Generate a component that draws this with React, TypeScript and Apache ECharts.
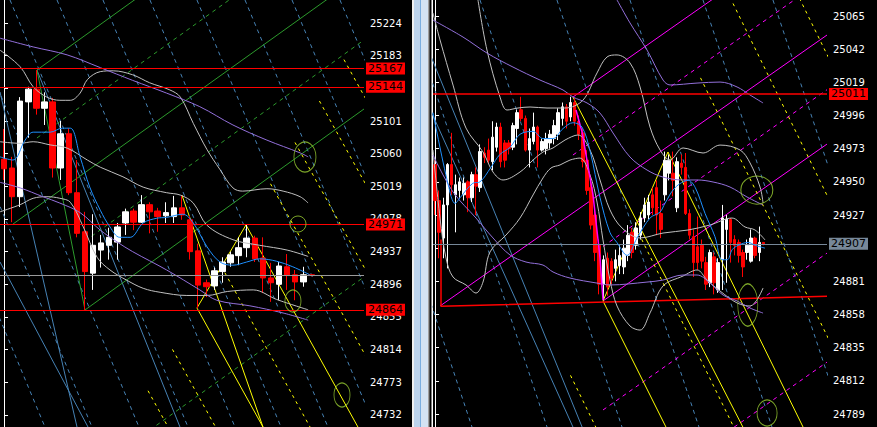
import React, { useEffect, useRef } from 'react';
import * as echarts from 'echarts';

// ---------- LEFT PANEL DATA ----------
// candles: [open, close, low, high]
const leftCandles = [
  [25053, 25041, 25027, 25091], [25042, 25006, 24974, 25056], [25006, 25126, 24993, 25131], [25125, 25141, 25080, 25144],
  [25141, 25117, 25109, 25165], [25117, 25125, 25096, 25137], [25125, 25042, 25030, 25130], [25042, 25085, 25027, 25101],
  [25085, 25011, 25008, 25092], [25011, 24960, 24955, 25052], [24962, 24912, 24864, 24987], [24910, 24945, 24889, 24984],
  [24939, 24948, 24917, 24958], [24945, 24955, 24927, 24967], [24949, 24968, 24927, 24973], [24973, 24987, 24958, 24991],
  [24988, 24974, 24964, 24991], [24974, 24996, 24973, 25008], [24996, 24987, 24960, 24999], [24988, 24981, 24962, 24992],
  [24982, 24986, 24973, 24999], [24981, 24992, 24973, 25007], [24992, 24983, 24977, 25008], [24977, 24937, 24927, 24982],
  [24938, 24895, 24866, 24947], [24898, 24893, 24880, 24902], [24894, 24913, 24889, 24917], [24912, 24924, 24898, 24930],
  [24923, 24933, 24918, 24937], [24932, 24942, 24920, 24955], [24942, 24954, 24930, 24971], [24954, 24928, 24924, 24957],
  [24929, 24904, 24885, 24955], [24904, 24898, 24874, 24923], [24896, 24919, 24876, 24924], [24918, 24907, 24889, 24934],
  [24908, 24899, 24876, 24914], [24899, 24908, 24893, 24918], [24908, 24907, 24906, 24909],
];
const leftTicks = [24732, 24773, 24814, 24855, 24896, 24937, 24978, 25019, 25060, 25101, 25142, 25183, 25224];
// tick labels visible in the reference (25142 is hidden behind the 25144 box)
const leftTickLabels = [24732, 24773, 24814, 24855, 24896, 24937, 24978, 25019, 25060, 25101, 25183, 25224];
const leftLevels = [25167, 25144, 24971, 24864];
const leftLast = 24907.4;

const leftBlueMA = [[-0.5,25056],[1.1,25052],[2.6,25077],[3.6,25087],[5.7,25087],[7.2,25092],[8.2,25092],[9.4,25056],[10.6,25018],[11.9,24989],[13.1,24968],[14.3,24955],[15.6,24955],[17.2,24973],[18.9,24979],[20.1,24980],[22.1,24984],[23.4,24973],[25.1,24943],[26.7,24924],[28.3,24920],[30.0,24924],[31.6,24928],[33.7,24925],[35.7,24918],[37.8,24908]];
const leftUpper = [[-0.5,25190],[2.0,25169],[3.6,25144],[5.3,25131],[6.9,25127],[8.2,25127],[9.4,25136],[10.3,25153],[11.9,25163],[13.5,25164],[15.9,25159],[18.0,25149],[20.5,25140],[21.8,25131],[23.4,25098],[25.1,25065],[26.7,25040],[28.3,25017],[29.5,25013],[32.5,25016],[34.5,25013],[36.6,25006],[37.6,24998]];
const leftMiddle = [[-0.5,25075],[2.0,25073],[3.6,25075],[5.7,25071],[7.8,25067],[10.3,25052],[11.9,25043],[14.7,25031],[17.2,25018],[20.1,25011],[21.8,25008],[23.4,24998],[25.1,24970],[28.3,24952],[31.6,24945],[35.0,24939],[37.6,24931]];
const leftLower = [[-0.5,24987],[2.0,24996],[3.6,25004],[5.3,25006],[6.9,25004],[8.2,24999],[9.8,24968],[11.5,24930],[13.1,24914],[15.2,24901],[17.2,24891],[19.3,24886],[22.6,24882],[25.1,24882],[27.6,24887],[30.8,24889],[33.7,24877],[37.6,24864]];
const leftPurpleA = [[-0.5,25205],[3.6,25194],[7.8,25184],[11.9,25168],[15.9,25152],[20.1,25136],[24.2,25119],[28.3,25096],[32.5,25077],[36.6,25061],[37.6,25056]];
const leftPurpleB = [[-0.5,25024],[2.0,25017],[4.8,25006],[6.9,24998],[9.4,24986],[11.9,24964],[14.0,24949],[15.9,24937],[20.1,24914],[24.2,24889],[26.3,24876],[30.4,24869],[34.5,24860],[37.6,24851]];

const leftGreenSolid = [
  [[4.07, 25165.0], [10.01, 24863.8]],
  [[4.07, 25165.0], [21.26, 25290.5]],
  [[1.11, 24971.7], [44.5, 25286.8]],
  [[10.01, 24863.8], [44.5, 25116.1]],
];
const leftGreenDashed = [
  [[4.07, 25079.7], [30.4, 25271.7]],
  [[10.01, 24950.4], [44.5, 25202.7]],
  [[18.04, 24713.2], [44.5, 24905.2]],
];
const leftBlueDashed = [
  [[-16.94, 25252.9], [5.06, 24716.9]], [[-11.13, 25252.9], [10.87, 24716.9]], [[-5.32, 25252.9], [16.68, 24716.9]],
  [[0.74, 25252.9], [22.74, 24716.9]], [[6.55, 25252.9], [28.55, 24716.9]], [[12.23, 25252.9], [34.24, 24716.9]],
  [[18.04, 25252.9], [40.04, 24716.9]], [[23.85, 25252.9], [45.85, 24716.9]], [[29.79, 25252.9], [51.79, 24716.9]],
  [[35.6, 25252.9], [57.6, 24716.9]], [[41.53, 25252.9], [63.53, 24716.9]],
];
const leftBlueSolid = [
  [[4.07, 25165.0], [21.75, 24716.9]],
  [[-0.5, 24924.0], [10.38, 24716.9]],
  [[-0.5, 25137.4], [9.02, 24716.9]],
];
const leftYellowSolid = [
  [[21.99, 25008.1], [32.01, 24716.9]],
  [[23.85, 24866.3], [29.91, 24970.5]],
  [[29.91, 24970.5], [43.75, 24716.9]],
  [[23.85, 24866.3], [32.01, 24716.9]],
];
const leftYellowDashed = [
  [[17.8, 24762.4], [20.28, 24716.9]], [[20.82, 24814.3], [26.15, 24716.9]], [[26.88, 24918.3], [37.83, 24716.9]],
  [[32.94, 25022.2], [49.57, 24716.9]], [[35.97, 25074.1], [55.45, 24716.9]], [[38.99, 25126.1], [61.38, 24716.9]],
  [[42.02, 25178.1], [67.25, 24716.9]],
];
const leftRings = [[37.2, 25055.8], [36.34, 24971.7], [35.72, 24875.1], [41.78, 24757.1]];

// ---------- RIGHT PANEL DATA ----------
const rightCandles = [
  [24962,24937,24927,24965],[24937,24915,24897,24944],[24911,24934,24897,24939],[24934,24962,24890,24963],
  [24962,24948,24941,24984],[24941,24948,24915,24955],[24944,24950,24939,24953],[24941,24949,24937,24953],
  [24950,24939,24929,24951],[24939,24955,24936,24957],[24955,24947,24927,24960],[24946,24971,24943,24976],
  [24970,24967,24963,24974],[24972,24965,24963,24980],[24964,24981,24958,24992],[24974,24988,24971,24991],
  [24988,24964,24960,24991],[24977,24965,24960,24979],[24977,24973,24969,24979],[24974,24989,24972,24991],
  [24987,24998,24976,25000],[25000,24994,24992,25009],[24994,24972,24971,24996],[24972,24980,24960,24987],
  [24978,24988,24976,24998],[24988,24972,24960,24989],[24972,24978,24971,24980],[24973,24980,24969,24984],
  [24977,24983,24973,24986],[24980,24989,24976,24993],[24983,24998,24979,25001],[24994,25002,24989,25005],
  [25002,24992,24987,25004],[24995,25005,24992,25009],[25005,24992,24989,25008],[24992,24983,24979,24996],
  [24984,24964,24960,24987],[24965,24944,24941,24972],[24946,24920,24917,24950],[24927,24901,24895,24931],
  [24906,24879,24872,24910],[24879,24896,24868,24899],[24897,24877,24871,24901],[24895,24883,24879,24897],
  [24890,24896,24881,24903],[24892,24899,24886,24906],[24891,24904,24886,24910],[24899,24913,24895,24920],
  [24915,24901,24897,24918],[24906,24918,24903,24922],[24913,24925,24910,24929],[24925,24934,24922,24939],
  [24927,24936,24924,24941],[24941,24932,24927,24946],[24946,24927,24913,24951],[24928,24917,24911,24937],
  [24941,24965,24937,24971],[24956,24965,24951,24969],[24956,24951,24940,24971],[24932,24964,24929,24967],
  [24963,24960,24955,24969],[24960,24928,24927,24970],[24928,24913,24910,24931],[24912,24894,24884,24917],
  [24905,24894,24889,24926],[24906,24895,24890,24910],[24894,24879,24875,24898],[24880,24901,24877,24903],
  [24898,24880,24872,24901],[24875,24894,24873,24897],[24896,24925,24875,24934],[24917,24924,24880,24927],
  [24924,24908,24894,24925],[24910,24906,24899,24913],[24908,24899,24894,24910],[24901,24891,24884,24903],
  [24901,24906,24896,24910],[24895,24911,24894,24917],[24911,24899,24897,24912],[24901,24908,24895,24919],
  [24908,24907,24906,24908],
];
const rightTicks = [24789, 24812, 24835, 24858, 24881, 24904, 24927, 24950, 24973, 24996, 25019, 25042, 25065];
// 24904 is hidden behind the 24907 box in the reference
const rightTickLabels = [24789, 24812, 24835, 24858, 24881, 24927, 24950, 24973, 24996, 25019, 25042, 25065];
const rightLevels = [25011];
const rightLast = 24907;

const rightBlueMA = [[-0.5,24998],[3.2,24948],[4.9,24935],[6.1,24939],[9.2,24949],[10.95,24950],[13.6,24960],[15.8,24969],[18.3,24974],[20.7,24983],[23.9,24985],[26.3,24980],[28.7,24980],[31.2,24987],[33.6,24991],[35.8,24988],[37.8,24971],[40.2,24939],[42.6,24915],[44.3,24908],[46.8,24899],[49.2,24911],[52.4,24925],[54.8,24929],[56.0,24935],[58.5,24946],[61.7,24951],[63.4,24946],[65.8,24928],[68.2,24912],[69.9,24896],[71.2,24896],[72.4,24903],[73.9,24906],[76.3,24908],[78.0,24906],[80.4,24904]];
const rightUpper = [[10.46,25076.1],[12.65,25041.4],[15.83,25008.8],[17.53,24999.8],[20.21,25001.2],[23.14,25001.9],[27.28,25001.2],[31.67,25001.2],[36.05,25006.7],[39.46,25025.5],[41.9,25036.6],[44.34,25038.0],[47.51,25032.4],[49.95,25015.8],[52.38,24988.0],[54.82,24972.1],[57.26,24965.2],[60.43,24973.5],[65.3,24970.0],[69.44,24975.5],[74.32,24972.1],[76.75,24963.1],[79.19,24946.4],[79.92,24935.4]];
const rightMiddle = [[-0.5,25067.1],[1.21,25048.4],[4.38,25017.1],[7.54,24987.3],[11.68,24970.7],[14.12,24956.8],[16.56,24951.3],[20.7,24956.8],[23.87,24965.1],[26.3,24970.7],[28.74,24973.5],[31.67,24979.0],[34.83,24982.5],[37.76,24972.1],[40.19,24951.3],[42.63,24930.5],[45.56,24918.0],[49.95,24911.1],[55.55,24914.5],[61.64,24916.6],[67.0,24920.1],[72.36,24924.9],[75.53,24918.7],[77.97,24916.6],[80.4,24909.7]];
const rightLower = [[-0.5,24972.1],[1.21,24924.9],[2.67,24897.2],[4.38,24884.0],[7.54,24878.5],[9.98,24872.9],[11.68,24880.5],[13.39,24901.4],[17.29,24913.1],[20.7,24924.9],[23.87,24940.9],[26.3,24952.7],[28.25,24959.6],[30.45,24961.7],[32.88,24965.1],[35.32,24966.5],[37.76,24954.7],[39.46,24936.0],[40.92,24909.7],[42.63,24881.9],[44.34,24863.9],[47.51,24850.0],[49.95,24847.2],[52.38,24859.1],[55.55,24877.8],[60.43,24884.7],[63.84,24888.9],[66.28,24881.9],[69.44,24874.3],[73.59,24866.0],[76.75,24863.9],[79.92,24876.4]];
const rightPurpleA = [[-0.5,25062.2],[6.81,25050.4],[12.66,25039.3],[18.99,25029.6],[25.57,25020.6],[31.18,25013.7],[33.61,25008.8],[37.03,25004.7],[40.19,24997.7],[43.36,24983.9],[47.5,24967.2],[51.65,24958.2],[55.55,24953.3],[60.42,24951.3],[63.83,24951.3],[67.73,24949.9],[71.87,24946.4],[76.01,24939.5],[79.91,24933.9]];
const rightPurpleB = [[44.34,25076.1],[47.5,25060.2],[51.65,25041.4],[55.55,25020.6],[57.25,25017.2],[63.83,25018.5],[69.44,25019.2],[73.58,25015.8],[76.75,25010.2],[79.92,25004.7]];
const rightPurpleC = [[-0.5,24968.6],[4.38,24943.0],[9.98,24924.9],[14.12,24911.1],[18.26,24899.3],[22.16,24894.4],[26.3,24892.3],[28.74,24887.5],[32.88,24883.3],[39.46,24879.8],[42.63,24878.5],[51.64,24880.5],[55.55,24881.9],[60.42,24885.4],[63.83,24885.4],[67.0,24879.8],[70.17,24871.5],[73.58,24867.4],[76.75,24862.5],[79.92,24859.0]];

const rightMagentaSolid = [
  [[1.21, 24863.9], [95.5, 25051.8]],
  [[33.6, 25008.8], [79.2, 25099.7]],
  [[40.92, 24867.4], [95.5, 24976.2]],
];
const rightMagentaDashed = [
  [[33.6, 24968.6], [95.5, 25092.0]],
  [[40.92, 24905.2], [95.5, 25013.9]],
  [[40.92, 24791.8], [95.5, 24900.6]],
  [[40.92, 24716.2], [95.5, 24825.0]],
];
const rightZigzag = [[34.34, 24999.8], [35.81, 24984.6], [38.49, 24940.9], [40.2, 24897.2], [40.92, 24868.1]];
const rightYellowSolid = [
  [[33.6, 25008.8], [75.0, 24780.0]],
  [[40.92, 24867.4], [56.75, 24970.7]],
  [[56.75, 24970.7], [89.66, 24780.0]],
  [[40.92, 24867.4], [56.26, 24780.0]],
];
const rightYellowDashed = [
  [[33.0, 24815.8], [39.16, 24780.0]], [[48.84, 24918.9], [72.77, 24780.0]], [[64.68, 25022.1], [106.41, 24780.0]],
  [[72.6, 25073.7], [123.18, 24780.0]], [[80.52, 25125.3], [139.99, 24780.0]], [[88.44, 25176.7], [156.76, 24780.0]],
];
const rightBlueDashed = [
  [[-43.87, 25076.1], [-9.27, 24780.0]], [[-25.6, 25076.1], [9.0, 24780.0]], [[-7.32, 25076.1], [27.28, 24780.0]],
  [[10.95, 25076.1], [45.55, 24780.0]], [[29.7, 25076.1], [64.3, 24780.0]], [[47.49, 25076.1], [82.09, 24780.0]],
  [[65.28, 25076.1], [99.88, 24780.0]], [[82.33, 25076.1], [116.94, 24780.0]],
];
const rightBlueSolid = [
  [[-6.59, 25076.1], [35.83, 24780.0]],
  [[-13.17, 25076.1], [33.6, 24780.0]],
];
const rightRedPath = [[1.45, 24910], [1.45, 24863.7], [95.5, 24870.6]];
const rightRings = [[78.4, 24944.3], [76.2, 24864.6], [80.9, 24789.7]];

// ---------- styling ----------
const leftRingSizes = [[22, 30], [16, 16], [16, 22], [16, 24]];
const rightRingSizes = [[32, 28], [20, 42], [20, 26]];
const LEFT_SLOTS = 45;
const RIGHT_SLOTS = 96;
const FONT = 'DejaVu Sans';
const GREEN = '#2c9a2c';

function segSeries(lines: number[][][], color: string, dash: any, xi: number, yi: number, width = 1, z = 2) {
  return lines.map((d) => ({
    type: 'line', xAxisIndex: xi, yAxisIndex: yi, data: d, symbol: 'none', silent: true, z,
    lineStyle: { color, width, type: dash }, clip: true,
  }));
}
function curve(d: number[][], color: string, xi: number, yi: number, z = 4) {
  return {
    type: 'line', xAxisIndex: xi, yAxisIndex: yi, data: d, symbol: 'none', silent: true, z,
    smooth: 0.35, lineStyle: { color, width: 1 }, clip: true,
  };
}
function levelLabel(bg: string) {
  return {
    show: true, position: 'end', distance: 2, formatter: (p: any) => String(p.value),
    backgroundColor: bg, color: '#000', fontSize: 11, fontFamily: FONT, padding: [1, 2, 0, 2], lineHeight: 11,
  };
}
function yAxisCfg(gridIndex: number, min: number, max: number, ticks: number[], labels: number[]) {
  return {
    type: 'value', gridIndex, position: 'right', min, max,
    splitLine: { show: false },
    axisLine: { show: true, lineStyle: { color: '#ffffff', width: 1 } },
    axisTick: { show: true, length: 4, lineStyle: { color: '#ffffff' }, customValues: ticks },
    axisLabel: { color: '#ffffff', fontSize: 10, fontFamily: FONT, margin: 6, customValues: labels, formatter: (v: number) => String(v) },
  };
}

export default function App() {
  const ref = useRef<HTMLDivElement>(null);
  useEffect(() => {
    if (!ref.current) return;
    const chart = echarts.init(ref.current, undefined, { renderer: 'svg' });
    const leftCats = Array.from({ length: LEFT_SLOTS }, (_, i) => String(i));
    const rightCats = Array.from({ length: RIGHT_SLOTS }, (_, i) => String(i));
    const candleStyle = { color: '#ffffff', color0: '#ff0000', borderColor: '#ffffff', borderColor0: '#ff0000', borderWidth: 1 };
    const ringSeries = (pts: number[][], sizes: number[][], xi: number, yi: number) => ({
      type: 'scatter', xAxisIndex: xi, yAxisIndex: yi, silent: true, z: 6,
      data: pts.map((p, i) => ({ value: p, symbolSize: sizes[i] })),
      symbol: 'circle', itemStyle: { color: 'rgba(0,0,0,0)', borderColor: '#9acd32', borderWidth: 1 },
    });
    const option: any = {
      animation: false,
      backgroundColor: '#000000',
      grid: [
        { left: 0, top: 0, width: 364, height: 427 },
        { left: 433, top: 0, width: 394, height: 427 },
      ],
      xAxis: [
        { type: 'category', gridIndex: 0, data: leftCats, show: false },
        { type: 'value', gridIndex: 0, min: -0.5, max: LEFT_SLOTS - 0.5, show: false },
        { type: 'category', gridIndex: 1, data: rightCats, show: false },
        { type: 'value', gridIndex: 1, min: -0.5, max: RIGHT_SLOTS - 0.5, show: false },
      ],
      yAxis: [
        yAxisCfg(0, 24716.9, 25252.9, leftTicks, leftTickLabels),
        yAxisCfg(1, 24780.0, 25076.1, rightTicks, rightTickLabels),
      ],
      graphic: [
        { type: 'rect', shape: { x: 412, y: 0, width: 2, height: 427 }, style: { fill: '#f0f0f0' }, silent: true },
        { type: 'rect', shape: { x: 414, y: 0, width: 6, height: 427 }, style: { fill: '#bcd3ec' }, silent: true },
        { type: 'rect', shape: { x: 420, y: 0, width: 1, height: 427 }, style: { fill: '#7aaee0' }, silent: true },
        { type: 'rect', shape: { x: 421, y: 0, width: 7, height: 427 }, style: { fill: '#d4e3f3' }, silent: true },
        { type: 'rect', shape: { x: 428, y: 0, width: 1.5, height: 427 }, style: { fill: '#a0a0a0' }, silent: true },
        { type: 'rect', shape: { x: 431.5, y: 0, width: 1.5, height: 427 }, style: { fill: '#ffffff' }, silent: true },
      ],
      series: [
        // left drawn objects
        ...segSeries(leftBlueDashed, '#4682b4', [4, 4], 1, 0),
        ...segSeries(leftBlueSolid, '#4682b4', 'solid', 1, 0),
        ...segSeries(leftGreenDashed, GREEN, [4, 4], 1, 0),
        ...segSeries(leftGreenSolid, GREEN, 'solid', 1, 0),
        ...segSeries(leftYellowDashed, '#ffff00', [3, 4], 1, 0),
        ...segSeries(leftYellowSolid, '#ffff00', 'solid', 1, 0),
        curve(leftUpper, '#c0c0c0', 1, 0), curve(leftMiddle, '#c0c0c0', 1, 0), curve(leftLower, '#c0c0c0', 1, 0),
        curve(leftPurpleA, '#9370db', 1, 0), curve(leftPurpleB, '#9370db', 1, 0),
        {
          type: 'candlestick', xAxisIndex: 0, yAxisIndex: 0, data: leftCandles, barWidth: 6, z: 3, silent: true,
          itemStyle: candleStyle,
          markLine: {
            symbol: 'none', silent: true, animation: false,
            data: [
              ...leftLevels.map((v) => ({ yAxis: v, lineStyle: { color: '#ff0000', width: 1, type: 'solid' }, label: levelLabel('#ff0000') })),
              { yAxis: leftLast, lineStyle: { color: '#9a9a9a', width: 1, type: 'solid' }, label: { show: false } },
            ],
          },
        },
        curve(leftBlueMA, '#1e90ff', 1, 0, 5),
        ringSeries(leftRings, leftRingSizes, 1, 0),

        // right drawn objects
        ...segSeries(rightBlueDashed, '#4682b4', [4, 4], 3, 1),
        ...segSeries(rightBlueSolid, '#4682b4', 'solid', 3, 1),
        ...segSeries(rightMagentaDashed, '#ff00ff', [4, 4], 3, 1),
        ...segSeries(rightMagentaSolid, '#ff00ff', 'solid', 3, 1),
        ...segSeries(rightYellowDashed, '#ffff00', [3, 4], 3, 1),
        ...segSeries(rightYellowSolid, '#ffff00', 'solid', 3, 1),
        {
          type: 'line', xAxisIndex: 3, yAxisIndex: 1, data: rightRedPath, symbol: 'none', silent: true, z: 2,
          lineStyle: { color: '#ff0000', width: 1.5 },
        },
        curve(rightUpper, '#c0c0c0', 3, 1), curve(rightMiddle, '#c0c0c0', 3, 1), curve(rightLower, '#c0c0c0', 3, 1),
        curve(rightPurpleA, '#9370db', 3, 1), curve(rightPurpleB, '#9370db', 3, 1), curve(rightPurpleC, '#9370db', 3, 1),
        {
          type: 'candlestick', xAxisIndex: 2, yAxisIndex: 1, data: rightCandles, barWidth: 3, z: 3, silent: true,
          itemStyle: candleStyle,
          markLine: {
            symbol: 'none', silent: true, animation: false,
            data: [
              ...rightLevels.map((v) => ({ yAxis: v, lineStyle: { color: '#ff0000', width: 1.5, type: 'solid' }, label: levelLabel('#ff0000') })),
              { yAxis: rightLast, lineStyle: { color: '#778899', width: 1, type: 'solid' }, label: levelLabel('#778899') },
            ],
          },
        },
        {
          type: 'line', xAxisIndex: 3, yAxisIndex: 1, data: rightZigzag, symbol: 'none', silent: true, z: 4,
          lineStyle: { color: '#ff00ff', width: 1.5 },
        },
        curve(rightBlueMA, '#1e90ff', 3, 1, 5),
        ringSeries(rightRings, rightRingSizes, 3, 1),
      ],
    };
    chart.setOption(option);
    return () => chart.dispose();
  }, []);
  return (
    <div
      ref={ref}
      style={{ position: 'absolute', left: 0, top: 0, width: 877, height: 427, background: '#000' }}
    />
  );
}
